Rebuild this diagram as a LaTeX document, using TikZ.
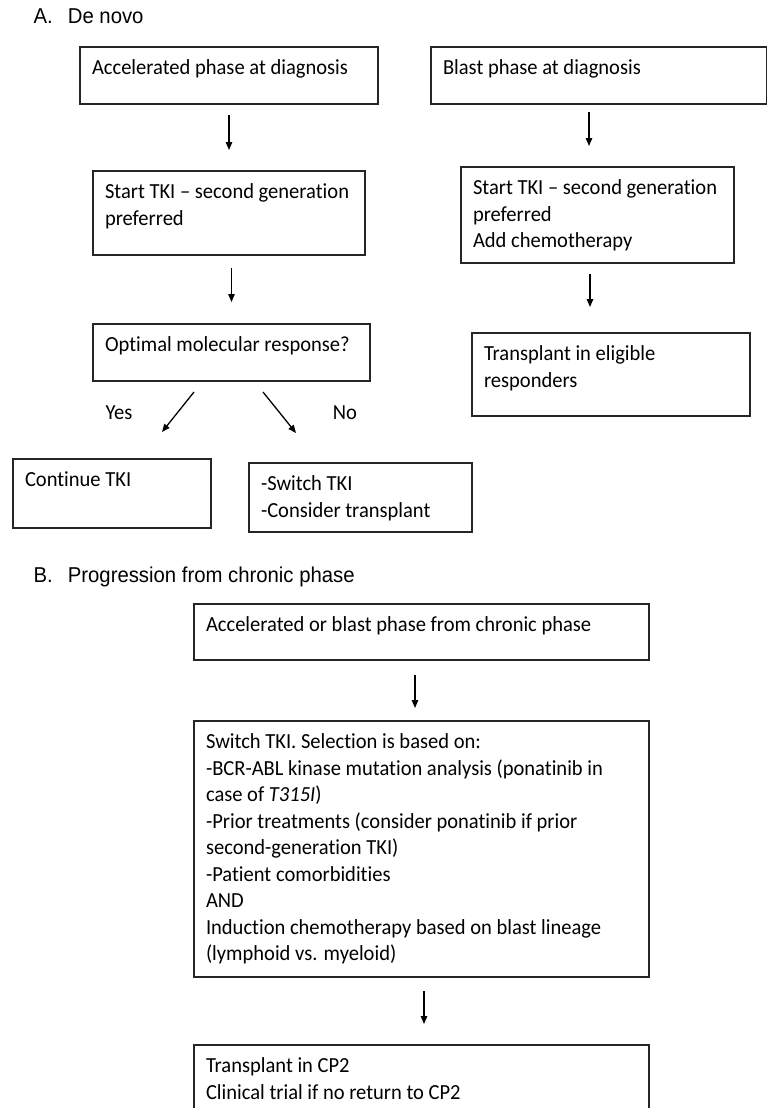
\documentclass[tikz,border=0pt]{standalone}
\usepackage{fontspec}
\setmainfont{Carlito}[FakeStretch=0.955, Ligatures=NoCommon]
\newfontfamily\headfont{Liberation Sans}[FakeStretch=0.945]
\usetikzlibrary{arrows.meta}
\hyphenpenalty=10000

\begin{document}
\begin{tikzpicture}[
    x=1pt, y=-1pt,
    box/.style={
        draw=black!85,
        line width=1.5pt,
        outer sep=0pt,
        anchor=north west,
        inner xsep=12pt,
        inner ysep=10pt,
        text height=17.5pt,
        align=flush left,
        font=\fontsize{21.5}{26.5}\selectfont
    },
    head/.style={anchor=base west, inner sep=0pt,
        font=\headfont\fontsize{21.5}{24}\selectfont},
    answer/.style={inner sep=0pt, font=\fontsize{21.5}{24}\selectfont},
    ->,
    >={Triangle[length=8pt, width=6.5pt]},
    every path/.style={line width=1.3pt}
]
\useasboundingbox (0,0) rectangle (766,1108);

%% ── A. De novo ───────────────────────────────────────────────────────────────
\node[head] (titleA) at (33,24) {A.\hspace{15pt}De novo};

\node[box, text width=274pt, text depth=19.5pt] (accel) at (80,47)
    {Accelerated phase at diagnosis};
\node[box, text width=312pt, text depth=19.5pt] (blast) at (431,47)
    {Blast phase at diagnosis};

\node[box, inner xsep=10pt, text width=252pt, text depth=46.5pt] (tkiA) at (93,171)
    {\hspace{2pt}Start TKI – second generation\\
     \hspace{2pt}preferred};
\node[box, inner xsep=10pt, text width=253pt, text depth=58.5pt] (tkiB) at (461,167)
    {\hspace{2pt}Start TKI – second generation\\
     \hspace{2pt}preferred\\
     \hspace{2pt}Add chemotherapy};

\node[box, text width=253pt, text depth=19.5pt] (optimal) at (93,324)
    {Optimal molecular response?};
\node[box, text width=254pt, text depth=45.5pt] (eligible) at (472,333)
    {Transplant in eligible\\
     responders};

\node[box, text width=174pt, text depth=31.5pt] (cont) at (13,459)
    {Continue TKI};
\node[box, text width=199pt, text depth=31.5pt] (switch) at (249,463)
    {-Switch TKI\\
     -Consider transplant};

\node[answer] (yes) at (119,413) {Yes};
\node[answer] (no)  at (345,413) {No};

%% ── A. arrows ────────────────────────────────────────────────────────────────
\draw[shorten <=11pt, shorten >=21pt] (accel.south) -- (tkiA.north);
\draw[shorten <=8pt, shorten >=21pt]
    ([xshift=-10pt]blast.south) -- ([xshift=-8.5pt]tkiB.north);
\draw[shorten <=13pt, shorten >=22pt] (tkiA.south -| optimal) -- (optimal.north);
\draw[shorten <=11pt, shorten >=26pt]
    ([xshift=-7.5pt]tkiB.south) -- ([xshift=-21pt]eligible.north);

% yes / no branches
\draw ([xshift=101pt, yshift=-11pt]optimal.south west)
    -- ([xshift=149pt, yshift=27pt]cont.north west);
\draw ([xshift=170pt, yshift=-11pt]optimal.south west)
    -- ([xshift=47pt, yshift=30pt]switch.north west);

%% ── B. Progression from chronic phase ────────────────────────────────────────
\node[head] (titleB) at (33,582) {B.\hspace{15pt}Progression from chronic phase};

\node[box, text width=431pt, text depth=18.5pt] (chronic) at (194,604)
    {Accelerated or blast phase from chronic phase};

\node[box, text width=431pt, text depth=218.5pt] (select) at (194,721)
    {Switch TKI. Selection is based on:\\
     -BCR-ABL kinase mutation analysis (ponatinib in\\
     case of \textit{T315I})\\
     -Prior treatments (consider ponatinib if prior\\
     second-generation TKI)\\
     -Patient comorbidities\\
     AND\\
     Induction chemotherapy based on blast lineage\\
     (lymphoid vs. myeloid)};

\node[box, text width=431pt, text depth=37.5pt] (cp2) at (194,1045)
    {Transplant in CP2\\
     Clinical trial if no return to CP2};

%% ── B. arrows ────────────────────────────────────────────────────────────────
\draw[shorten <=15pt, shorten >=13pt]
    ([xshift=-6.5pt]chronic.south) -- ([xshift=-6.5pt]select.north);
\draw[shorten <=14pt, shorten >=21pt]
    ([xshift=2.5pt]select.south) -- ([xshift=2.5pt]cp2.north);

\end{tikzpicture}
\end{document}
